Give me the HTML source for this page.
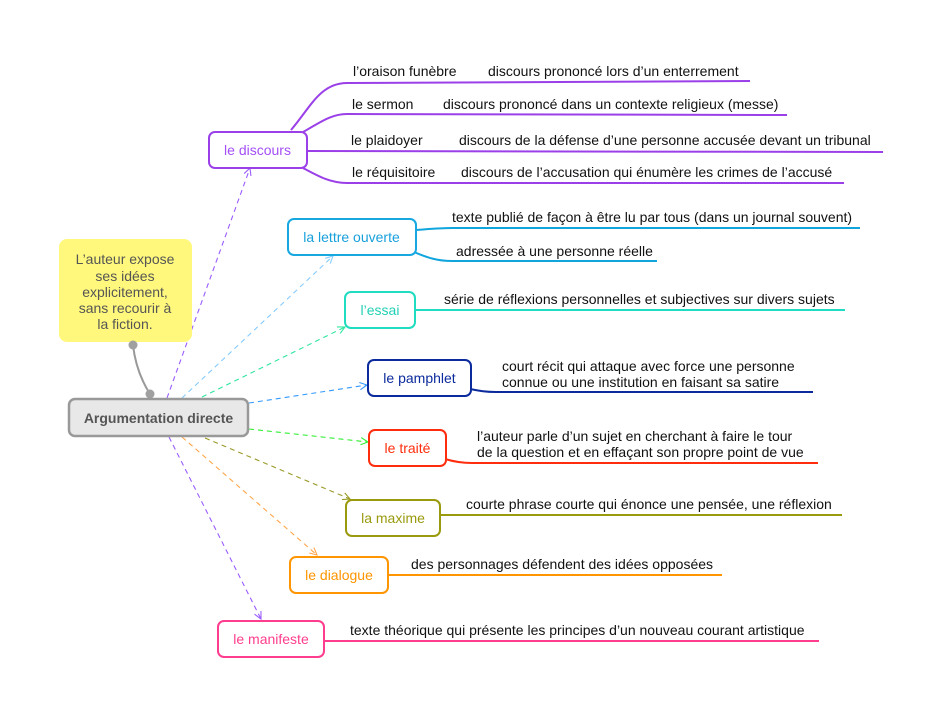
<!DOCTYPE html>
<html><head><meta charset="utf-8"><style>
html,body{margin:0;padding:0;background:#fff;}
svg{display:block;}
text{font-family:"Liberation Sans",Arial,sans-serif;font-size:14px;}
</style></head><body>
<svg width="943" height="718" viewBox="0 0 943 718" xmlns="http://www.w3.org/2000/svg">
<defs>
<marker id="a1" viewBox="0 0 10 10" refX="9" refY="5" markerWidth="9" markerHeight="9" markerUnits="userSpaceOnUse" orient="auto"><path d="M1,1 L9,5 L1,9" fill="none" stroke="#9b5cff" stroke-width="1.2"/></marker>
<marker id="a2" viewBox="0 0 10 10" refX="9" refY="5" markerWidth="9" markerHeight="9" markerUnits="userSpaceOnUse" orient="auto"><path d="M1,1 L9,5 L1,9" fill="none" stroke="#86ccff" stroke-width="1.2"/></marker>
<marker id="a3" viewBox="0 0 10 10" refX="9" refY="5" markerWidth="9" markerHeight="9" markerUnits="userSpaceOnUse" orient="auto"><path d="M1,1 L9,5 L1,9" fill="none" stroke="#2ee6a0" stroke-width="1.2"/></marker>
<marker id="a4" viewBox="0 0 10 10" refX="9" refY="5" markerWidth="9" markerHeight="9" markerUnits="userSpaceOnUse" orient="auto"><path d="M1,1 L9,5 L1,9" fill="none" stroke="#3399ff" stroke-width="1.2"/></marker>
<marker id="a5" viewBox="0 0 10 10" refX="9" refY="5" markerWidth="9" markerHeight="9" markerUnits="userSpaceOnUse" orient="auto"><path d="M1,1 L9,5 L1,9" fill="none" stroke="#33ee33" stroke-width="1.2"/></marker>
<marker id="a6" viewBox="0 0 10 10" refX="9" refY="5" markerWidth="9" markerHeight="9" markerUnits="userSpaceOnUse" orient="auto"><path d="M1,1 L9,5 L1,9" fill="none" stroke="#9a9a2a" stroke-width="1.2"/></marker>
<marker id="a7" viewBox="0 0 10 10" refX="9" refY="5" markerWidth="9" markerHeight="9" markerUnits="userSpaceOnUse" orient="auto"><path d="M1,1 L9,5 L1,9" fill="none" stroke="#ffa64a" stroke-width="1.2"/></marker>
<marker id="a8" viewBox="0 0 10 10" refX="9" refY="5" markerWidth="9" markerHeight="9" markerUnits="userSpaceOnUse" orient="auto"><path d="M1,1 L9,5 L1,9" fill="none" stroke="#9b5cff" stroke-width="1.2"/></marker>
</defs>

<!-- dashed arrows from central node -->
<g fill="none" stroke-width="1.1" stroke-dasharray="5,4">
<path d="M167,398 L250,168" stroke="#9b5cff" marker-end="url(#a1)"/>
<path d="M182,398 L333,256" stroke="#86ccff" marker-end="url(#a2)"/>
<path d="M202,397 L345,327" stroke="#2ee6a0" marker-end="url(#a3)"/>
<path d="M249,403 L367,385" stroke="#3399ff" marker-end="url(#a4)"/>
<path d="M249,429 L368,442" stroke="#33ee33" marker-end="url(#a5)"/>
<path d="M205,438 L350,499" stroke="#9a9a2a" marker-end="url(#a6)"/>
<path d="M182,437 L317,555" stroke="#ffa64a" marker-end="url(#a7)"/>
<path d="M169,437 L261,619" stroke="#9b5cff" marker-end="url(#a8)"/>
</g>

<!-- callout -->
<rect x="59" y="239" width="133" height="103" rx="8" fill="#fff87c"/>
<g font-size="14" fill="#555" text-anchor="middle">
<text x="125" y="264">L’auteur expose</text>
<text x="125" y="281">ses idées</text>
<text x="125" y="297">explicitement,</text>
<text x="125" y="313">sans recourir à</text>
<text x="125" y="329">la fiction.</text>
</g>
<path d="M133,345 Q136,372 150,394" fill="none" stroke="#999" stroke-width="2"/>
<circle cx="133" cy="345" r="4.5" fill="#a0a0a0"/>
<circle cx="150" cy="394" r="4.5" fill="#a0a0a0"/>

<!-- central node -->
<rect x="69" y="399" width="179" height="37" rx="6" fill="#e8e8e8" stroke="#999" stroke-width="2.5"/>
<text x="158.5" y="423" text-anchor="middle" font-weight="bold" fill="#555">Argumentation directe</text>

<!-- le discours branch -->
<g fill="none" stroke="#9b40e8" stroke-width="2">
<path d="M291,130 C310,108 320,83 347,83 L750,81"/>
<path d="M303,132 C318,124 330,114 347,114 L787,115"/>
<path d="M307,151 L883,152"/>
<path d="M303,168 C318,176 330,183 347,183 L844,183"/>
</g>
<rect x="209" y="132" width="98" height="36" rx="6" fill="#fff" stroke="#9b40e8" stroke-width="2"/>
<text x="257.5" y="155" text-anchor="middle" fill="#a44ff5">le discours</text>
<g fill="#111">
<text x="353" y="76">l’oraison funèbre</text>
<text x="488" y="76">discours prononcé lors d’un enterrement</text>
<text x="352" y="109">le sermon</text>
<text x="443" y="109">discours prononcé dans un contexte religieux (messe)</text>
<text x="351" y="145">le plaidoyer</text>
<text x="459" y="145">discours de la défense d’une personne accusée devant un tribunal</text>
<text x="352" y="177">le réquisitoire</text>
<text x="461" y="177">discours de l’accusation qui énumère les crimes de l’accusé</text>
</g>

<!-- la lettre ouverte -->
<g fill="none" stroke="#10a5dd" stroke-width="2">
<path d="M416,230 C430,229 440,228 452,228 L860,228"/>
<path d="M414,252 C428,258 438,261 452,261 L657,261"/>
</g>
<rect x="288" y="219" width="128" height="36" rx="6" fill="#fff" stroke="#18a8e0" stroke-width="2"/>
<text x="351.5" y="242" text-anchor="middle" fill="#18a0dc">la lettre ouverte</text>
<text x="452" y="222" fill="#111">texte publié de façon à être lu par tous (dans un journal souvent)</text>
<text x="456" y="256" fill="#111">adressée à une personne réelle</text>

<!-- l'essai -->
<path d="M415,310 L845,310" fill="none" stroke="#1fdcc4" stroke-width="2"/>
<rect x="345" y="292" width="70" height="36" rx="6" fill="#fff" stroke="#20dcc0" stroke-width="2"/>
<text x="380" y="315" text-anchor="middle" fill="#22d0b6">l’essai</text>
<text x="444" y="304" fill="#111">série de réflexions personnelles et subjectives sur divers sujets</text>

<!-- le pamphlet -->
<path d="M470,389 C480,391 486,392 496,392 L813,392" fill="none" stroke="#0b2a9c" stroke-width="2"/>
<rect x="368" y="360" width="103" height="36" rx="6" fill="#fff" stroke="#0b2a9c" stroke-width="2"/>
<text x="419.5" y="383" text-anchor="middle" fill="#0b2a9c">le pamphlet</text>
<text x="502" y="371" fill="#111">court récit qui attaque avec force une personne</text>
<text x="502" y="387" fill="#111">connue ou une institution en faisant sa satire</text>

<!-- le traité -->
<path d="M445,459 C455,462 462,463 472,463 L818,463" fill="none" stroke="#ff2d0d" stroke-width="2"/>
<rect x="369" y="430" width="77" height="36" rx="6" fill="#fff" stroke="#ff2d0d" stroke-width="2"/>
<text x="407.5" y="453" text-anchor="middle" fill="#ff2d0d">le traité</text>
<text x="477" y="441" fill="#111">l’auteur parle d’un sujet en cherchant à faire le tour</text>
<text x="477" y="457" fill="#111">de la question et en effaçant son propre point de vue</text>

<!-- la maxime -->
<path d="M440,515 L842,515" fill="none" stroke="#9a9a0e" stroke-width="2"/>
<rect x="346" y="500" width="94" height="36" rx="6" fill="#fff" stroke="#9a9a0e" stroke-width="2"/>
<text x="393" y="523" text-anchor="middle" fill="#9a9a0e">la maxime</text>
<text x="466" y="509" fill="#111">courte phrase courte qui énonce une pensée, une réflexion</text>

<!-- le dialogue -->
<path d="M388,575 L722,575" fill="none" stroke="#ff9500" stroke-width="2"/>
<rect x="290" y="557" width="98" height="36" rx="6" fill="#fff" stroke="#ff9500" stroke-width="2"/>
<text x="339" y="580" text-anchor="middle" fill="#ff9500">le dialogue</text>
<text x="411" y="569" fill="#111">des personnages défendent des idées opposées</text>

<!-- le manifeste -->
<path d="M324,641 L819,641" fill="none" stroke="#ff3d8e" stroke-width="2"/>
<rect x="218" y="621" width="106" height="36" rx="6" fill="#fff" stroke="#ff3d8e" stroke-width="2"/>
<text x="271" y="644" text-anchor="middle" fill="#ff3d8e">le manifeste</text>
<text x="350" y="635" fill="#111">texte théorique qui présente les principes d’un nouveau courant artistique</text>
</svg>
</body></html>
